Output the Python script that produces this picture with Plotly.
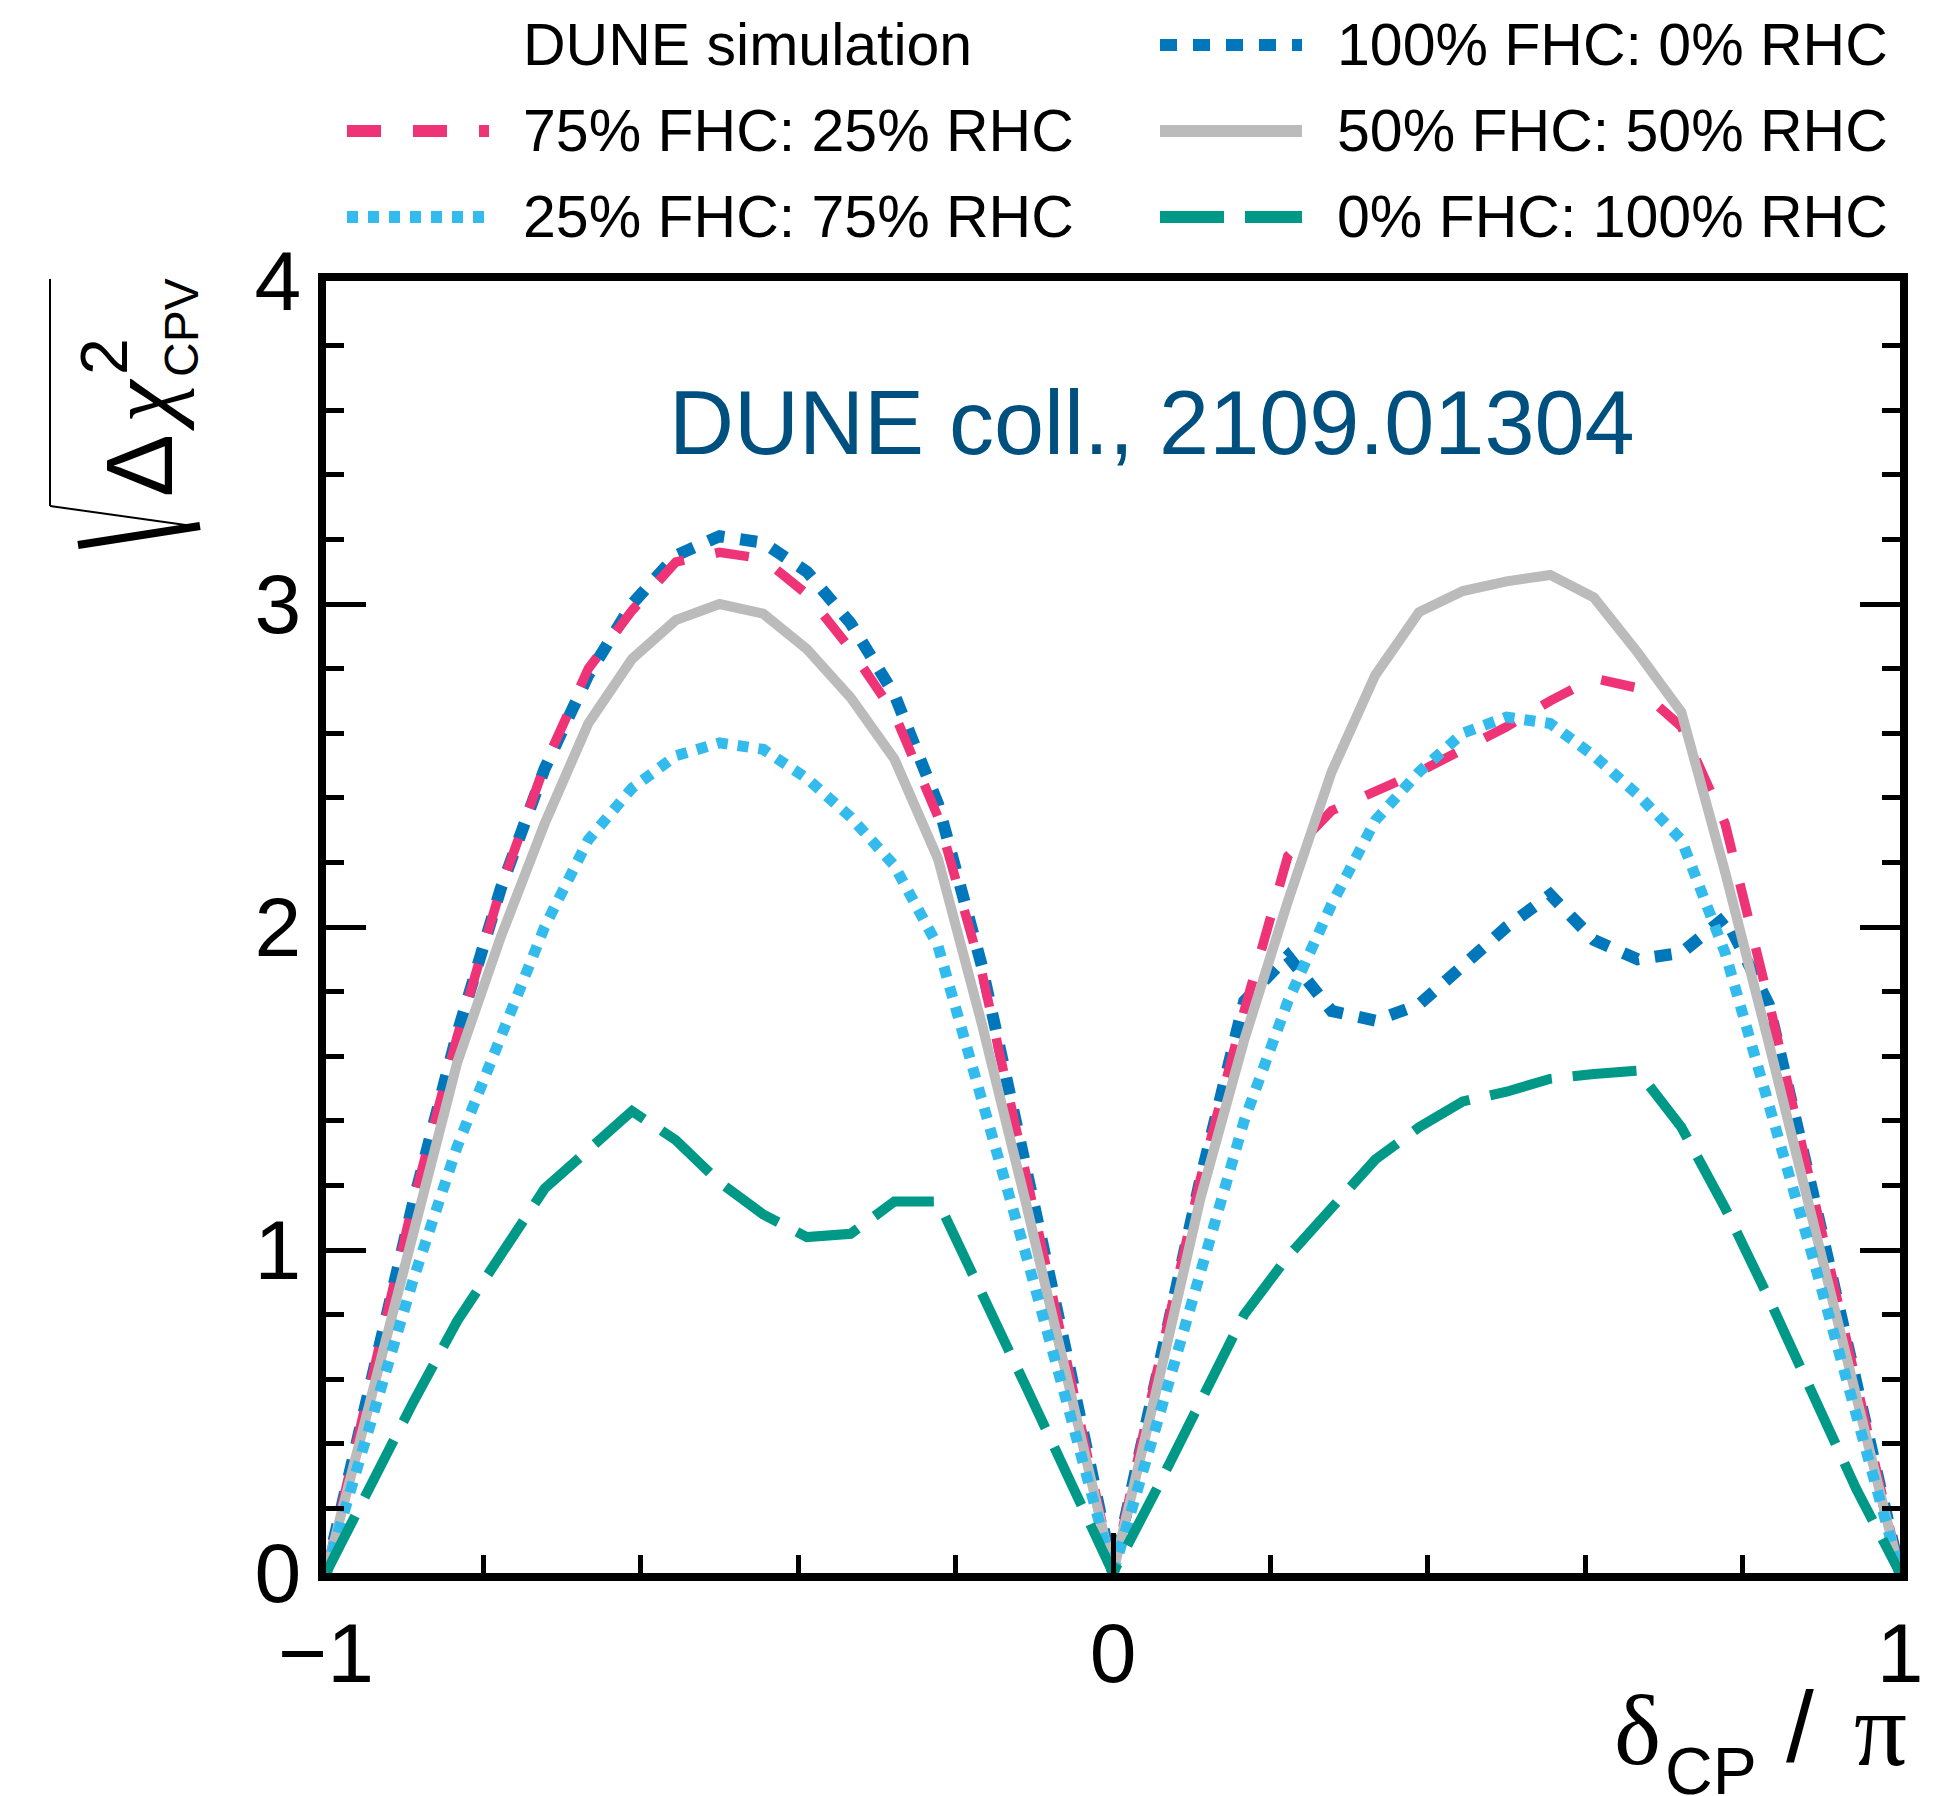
import plotly.graph_objects as go

# ---------------- data ----------------
delta_deg = [-180, -170, -160, -150, -140, -130, -120, -110, -100, -90,
             -80, -70, -60, -50, -40, -30, -20, -10, 0,
             10, 20, 30, 40, 50, 60, 70, 80, 90,
             100, 110, 120, 130, 140, 150, 160, 170, 180]

fhc100 = [0, 0.58, 1.15, 1.67, 2.12, 2.49, 2.78, 3.00, 3.15, 3.21,
          3.19, 3.10, 2.94, 2.72, 2.38, 1.88, 1.27, 0.64, 0,
          0.62, 1.22, 1.77, 1.91, 1.74, 1.71, 1.76, 1.88, 2.00,
          2.10, 1.96, 1.90, 1.92, 2.03, 1.76, 1.18, 0.60, 0]

fhc75 = [0, 0.58, 1.15, 1.66, 2.12, 2.50, 2.80, 2.98, 3.13, 3.16,
         3.14, 3.03, 2.86, 2.66, 2.34, 1.86, 1.25, 0.63, 0,
         0.62, 1.22, 1.74, 2.22, 2.36, 2.42, 2.48, 2.55, 2.62,
         2.70, 2.77, 2.74, 2.62, 2.32, 1.77, 1.18, 0.60, 0]

fhc50 = [0, 0.53, 1.07, 1.58, 1.97, 2.32, 2.63, 2.83, 2.95, 3.00,
         2.97, 2.86, 2.71, 2.52, 2.21, 1.70, 1.15, 0.58, 0,
         0.57, 1.16, 1.65, 2.08, 2.48, 2.78, 2.975, 3.04, 3.07,
         3.09, 3.02, 2.85, 2.665, 2.17, 1.64, 1.10, 0.55, 0]

fhc25 = [0, 0.46, 0.91, 1.32, 1.65, 2.00, 2.27, 2.43, 2.53, 2.57,
         2.55, 2.46, 2.34, 2.19, 1.94, 1.48, 0.99, 0.50, 0,
         0.46, 0.93, 1.40, 1.77, 2.07, 2.33, 2.48, 2.60, 2.65,
         2.63, 2.53, 2.41, 2.27, 1.92, 1.46, 0.98, 0.49, 0]

fhc0 = [0, 0.27, 0.53, 0.78, 0.99, 1.19, 1.31, 1.43, 1.34, 1.21,
        1.11, 1.04, 1.05, 1.15, 1.15, 0.87, 0.58, 0.29, 0,
        0.26, 0.53, 0.80, 0.98, 1.13, 1.28, 1.38, 1.46, 1.49,
        1.53, 1.545, 1.555, 1.38, 1.13, 0.85, 0.55, 0.26, 0]

labels = ["100% FHC: 0% RHC", "75% FHC: 25% RHC", "50% FHC: 50% RHC",
          "25% FHC: 75% RHC", "0% FHC: 100% RHC"]

x_ticks = [-1, 0, 1]
x_ticktext = ["\u22121", "0", "1"]
y_ticks = [0, 1, 2, 3, 4]

# ---------------- styles ----------------
colors = ["#0077BB", "#EE3377", "#BBBBBB", "#33BBEE", "#009988"]
dashes = ["17px,16px", "34px,32px", "solid", "11px,10px", "64px,21px"]
widths = [12, 9.5, 10, 11, 10]

delta = [d / 180 for d in delta_deg]
series = [fhc100, fhc75, fhc50, fhc25, fhc0]

W, H = 1946, 1796
L, R, T, B = 326, 46, 281, 223
pw, ph = W - L - R, H - T - B


def px2paper(px, py):
    return (px - L) / pw, (H - B - py) / ph


fig = go.Figure()
for s, c, d, w, name in zip(series, colors, dashes, widths, labels):
    fig.add_trace(go.Scatter(x=delta, y=s, mode="lines", name=name,
                             line=dict(color=c, dash=d, width=w),
                             showlegend=False, hoverinfo="skip"))

FONT = "Liberation Sans"
SERIF = "Liberation Serif"
annotations = []
shapes = []

# ---- manual legend ----
rows_y = [45, 131, 217]
col_line = [(347, 489), (1160, 1302)]
col_text = [521, 1335]
entries = [  # (col, row, series index or None, text)
    (0, 0, None, "DUNE simulation"),
    (1, 0, 0, labels[0]),
    (0, 1, 1, labels[1]),
    (1, 1, 2, labels[2]),
    (0, 2, 3, labels[3]),
    (1, 2, 4, labels[4]),
]
for col, row, si, text in entries:
    yy = rows_y[row]
    if si is not None:
        x0, y0 = px2paper(col_line[col][0], yy)
        x1, _ = px2paper(col_line[col][1], yy)
        shapes.append(dict(type="line", xref="paper", yref="paper",
                           x0=x0, x1=x1, y0=y0, y1=y0,
                           line=dict(color=colors[si], width=12,
                                     dash=dashes[si])))
    tx, ty = px2paper(col_text[col], yy)
    annotations.append(dict(text=text, xref="paper", yref="paper", x=tx, y=ty,
                            xanchor="left", yanchor="middle", showarrow=False,
                            font=dict(family=FONT, size=59, color="black")))

# ---- in-plot label ----
annotations.append(dict(text="DUNE coll., 2109.01304", xref="x", yref="y",
                        x=0.05, y=3.56, xanchor="center", yanchor="middle",
                        showarrow=False,
                        font=dict(family=FONT, size=90, color="#00507F")))

# ---- y-axis title: sqrt(Δχ²_CPV) ----
for text, cx, cy, size, fam in [("\u0394", 139, 466, 94, FONT),
                                ("<i>\u03c7</i>", 141, 405, 96, SERIF),
                                ("2", 104, 357, 66, FONT),
                                ("CPV", 181, 328, 48, FONT)]:
    ax_, ay_ = px2paper(cx, cy)
    annotations.append(dict(text=text, xref="paper", yref="paper", x=ax_, y=ay_,
                            xanchor="center", yanchor="middle", textangle=-90,
                            showarrow=False,
                            font=dict(family=fam, size=size, color="black")))
for (p0, p1, lw) in [((50, 279), (50, 506), 2),
                     ((50, 506), (200, 527), 2),
                     ((200, 526), (78, 545), 8)]:
    x0, y0 = px2paper(*p0)
    x1, y1 = px2paper(*p1)
    shapes.append(dict(type="line", xref="paper", yref="paper",
                       x0=x0, y0=y0, x1=x1, y1=y1,
                       line=dict(color="black", width=lw)))

# ---- x-axis title: δ_CP / π ----
for text, cx, cy, size, fam in [("\u03b4", 1637, 1730, 100, SERIF),
                                ("CP", 1711, 1771, 66, FONT),
                                ("/", 1800, 1727, 100, FONT),
                                ("\u03c0", 1880, 1729, 105, SERIF)]:
    ax_, ay_ = px2paper(cx, cy)
    annotations.append(dict(text=text, xref="paper", yref="paper", x=ax_, y=ay_,
                            xanchor="center", yanchor="middle", showarrow=False,
                            font=dict(family=fam, size=size, color="black")))

axis_common = dict(showline=True, linecolor="black", linewidth=8,
                   ticks="inside", tickcolor="black", tickwidth=5, ticklen=40,
                   showgrid=False, zeroline=False,
                   tickfont=dict(family=FONT, size=84, color="black"))

fig.update_xaxes(range=[-1, 1], tickmode="array", tickvals=x_ticks,
                 ticktext=x_ticktext, mirror=True,
                 minor=dict(ticks="inside", ticklen=18, tickwidth=5,
                            tickcolor="black", tickmode="linear",
                            tick0=-1, dtick=0.2, showgrid=False),
                 **axis_common)
fig.update_yaxes(range=[0, 4], tickmode="array", tickvals=y_ticks,
                 mirror="ticks",
                 minor=dict(ticks="inside", ticklen=18, tickwidth=5,
                            tickcolor="black", tickmode="linear",
                            tick0=0, dtick=0.2, showgrid=False),
                 **axis_common)

fig.update_layout(width=W, height=H,
                  margin=dict(l=L, r=R, t=T, b=B, pad=0),
                  paper_bgcolor="white", plot_bgcolor="white",
                  showlegend=False, annotations=annotations, shapes=shapes)

fig.write_html("out.html")
